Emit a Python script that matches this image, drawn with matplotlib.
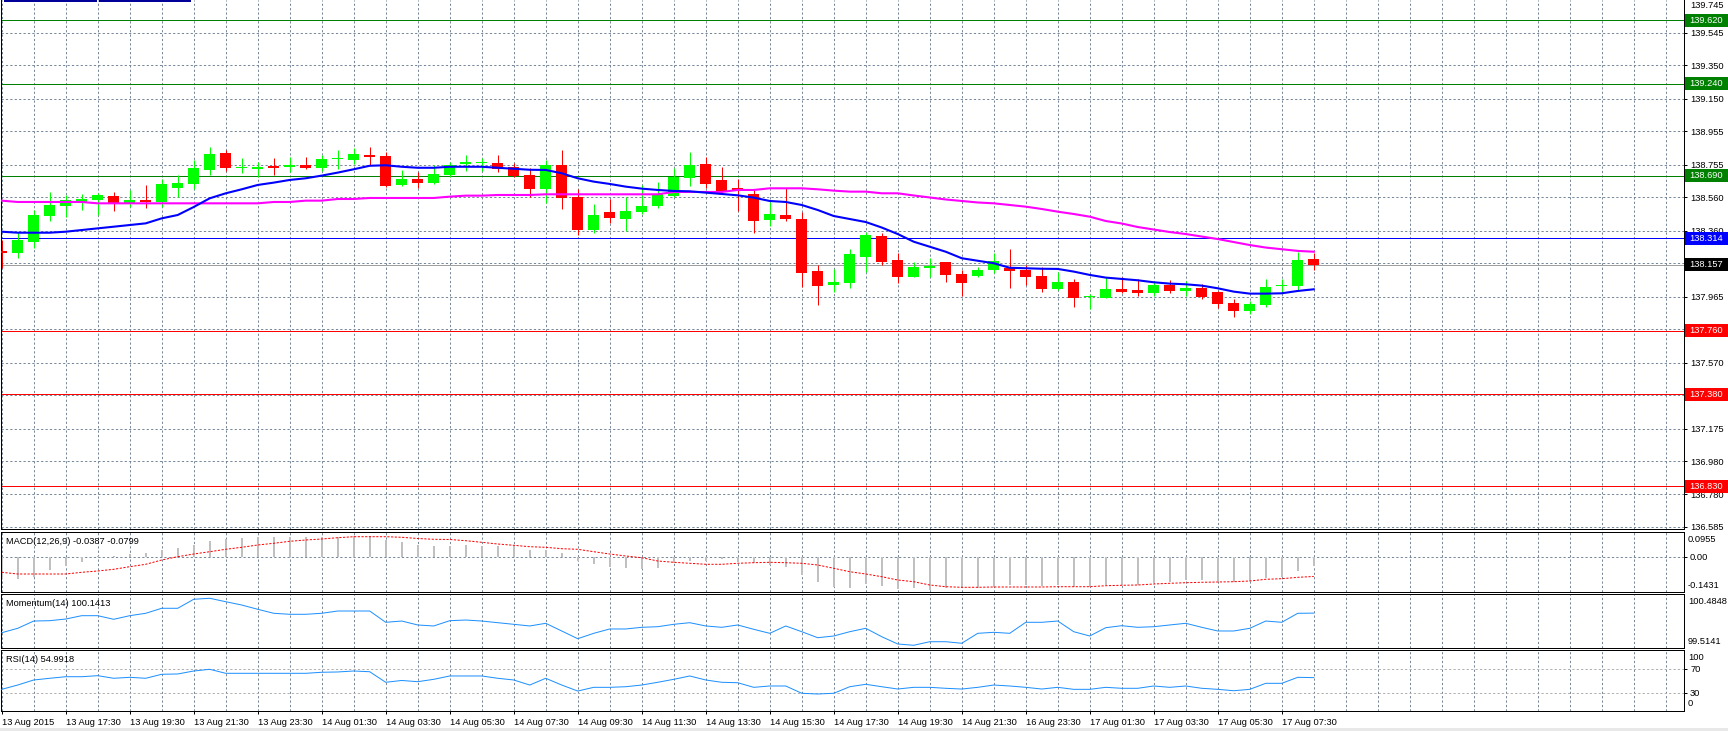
import matplotlib.pyplot as plt
import matplotlib.transforms as mtransforms
from matplotlib.patches import Rectangle
import numpy as np

plt.rcParams['font.family'] = ['Liberation Sans', 'DejaVu Sans']
plt.rcParams['font.size'] = 6.7

# M30 candles, 13 Aug 2015 15:30 .. 17 Aug 2015 08:30
opens = [138.233, 138.228, 138.294, 138.450, 138.510, 138.532, 138.544, 138.568, 138.522, 138.544,
         138.534, 138.618, 138.642, 138.724, 138.826, 138.733, 138.732, 138.748, 138.740, 138.756,
         138.738, 138.787, 138.785, 138.814, 138.808, 138.634, 138.670, 138.648, 138.694, 138.760,
         138.763, 138.766, 138.742, 138.694, 138.612, 138.756, 138.562, 138.366, 138.472, 138.432,
         138.474, 138.510, 138.570, 138.678, 138.760, 138.664, 138.616, 138.580, 138.426, 138.454,
         138.430, 138.119, 138.037, 138.047, 138.204, 138.328, 138.185, 138.085, 138.139, 138.173,
         138.101, 138.091, 138.127, 138.139, 138.127, 138.089, 138.013, 138.053, 137.961, 137.959,
         138.011, 138.005, 137.989, 138.035, 138.001, 138.019, 137.993, 137.927, 137.881, 137.917,
         138.027, 138.031, 138.191]
highs = [138.304, 138.351, 138.484, 138.592, 138.574, 138.580, 138.588, 138.592, 138.604, 138.634,
         138.670, 138.694, 138.784, 138.864, 138.844, 138.794, 138.770, 138.796, 138.804, 138.800,
         138.814, 138.844, 138.857, 138.864, 138.833, 138.724, 138.714, 138.754, 138.772, 138.814,
         138.794, 138.814, 138.764, 138.734, 138.784, 138.844, 138.610, 138.520, 138.548, 138.560,
         138.634, 138.650, 138.734, 138.830, 138.804, 138.740, 138.668, 138.604, 138.534, 138.614,
         138.474, 138.155, 138.129, 138.250, 138.354, 138.344, 138.225, 138.175, 138.195, 138.173,
         138.125, 138.145, 138.225, 138.250, 138.155, 138.141, 138.115, 138.069, 137.979, 138.081,
         138.085, 138.071, 138.059, 138.065, 138.059, 138.041, 138.001, 137.951, 137.941, 138.071,
         138.071, 138.233, 138.225]
lows = [138.137, 138.198, 138.255, 138.420, 138.440, 138.484, 138.454, 138.480, 138.504, 138.498,
        138.500, 138.562, 138.612, 138.692, 138.720, 138.708, 138.684, 138.694, 138.710, 138.728,
        138.718, 138.730, 138.760, 138.754, 138.624, 138.630, 138.614, 138.640, 138.682, 138.720,
        138.720, 138.714, 138.684, 138.564, 138.528, 138.490, 138.334, 138.348, 138.404, 138.360,
        138.458, 138.498, 138.564, 138.630, 138.614, 138.584, 138.478, 138.348, 138.390, 138.420,
        138.025, 137.917, 137.995, 138.019, 138.115, 138.155, 138.045, 138.081, 138.085, 138.055,
        137.969, 138.081, 138.109, 138.019, 138.035, 137.995, 138.005, 137.905, 137.889, 137.955,
        137.985, 137.971, 137.971, 137.985, 137.971, 137.953, 137.895, 137.841, 137.861, 137.905,
        137.984, 138.001, 138.125]
closes = [138.227, 138.304, 138.454, 138.514, 138.544, 138.550, 138.574, 138.528, 138.544, 138.532,
          138.640, 138.646, 138.736, 138.820, 138.738, 138.736, 138.742, 138.738, 138.756, 138.738,
          138.790, 138.789, 138.820, 138.804, 138.630, 138.670, 138.648, 138.702, 138.756, 138.763,
          138.764, 138.732, 138.690, 138.612, 138.754, 138.558, 138.366, 138.454, 138.438, 138.478,
          138.508, 138.580, 138.682, 138.756, 138.642, 138.598, 138.598, 138.420, 138.460, 138.432,
          138.109, 138.031, 138.053, 138.221, 138.334, 138.174, 138.085, 138.143, 138.149, 138.097,
          138.049, 138.125, 138.179, 138.121, 138.085, 138.013, 138.053, 137.959, 137.965, 138.011,
          137.995, 137.989, 138.035, 138.001, 138.019, 137.965, 137.923, 137.881, 137.921, 138.023,
          138.031, 138.185, 138.157]

ma_fast = [138.354, 138.348, 138.348, 138.348, 138.354, 138.364, 138.374, 138.384, 138.394, 138.404,
           138.434, 138.454, 138.502, 138.554, 138.584, 138.608, 138.634, 138.648, 138.664, 138.674,
           138.690, 138.708, 138.728, 138.749, 138.752, 138.743, 138.737, 138.737, 138.743, 138.743,
           138.743, 138.737, 138.731, 138.725, 138.724, 138.704, 138.674, 138.654, 138.640, 138.624,
           138.612, 138.604, 138.598, 138.596, 138.588, 138.580, 138.572, 138.558, 138.538, 138.532,
           138.514, 138.484, 138.448, 138.430, 138.412, 138.379, 138.340, 138.294, 138.264, 138.234,
           138.195, 138.180, 138.165, 138.138, 138.135, 138.132, 138.131, 138.115, 138.095, 138.079,
           138.071, 138.063, 138.051, 138.043, 138.039, 138.031, 138.015, 137.995, 137.983, 137.983,
           137.985, 137.999, 138.009]
ma_slow = [138.540, 138.532, 138.532, 138.532, 138.532, 138.532, 138.524, 138.524, 138.524, 138.524,
           138.524, 138.524, 138.524, 138.524, 138.524, 138.524, 138.524, 138.532, 138.532, 138.540,
           138.540, 138.550, 138.550, 138.556, 138.556, 138.556, 138.556, 138.556, 138.564, 138.570,
           138.570, 138.574, 138.574, 138.574, 138.578, 138.578, 138.578, 138.578, 138.578, 138.578,
           138.578, 138.578, 138.592, 138.592, 138.592, 138.592, 138.604, 138.604, 138.614, 138.614,
           138.614, 138.608, 138.600, 138.594, 138.594, 138.584, 138.584, 138.571, 138.559, 138.547,
           138.538, 138.529, 138.524, 138.514, 138.504, 138.490, 138.474, 138.460, 138.444, 138.418,
           138.403, 138.382, 138.367, 138.352, 138.340, 138.325, 138.310, 138.292, 138.274, 138.259,
           138.249, 138.239, 138.234]

macd_main = [-0.0914, -0.0902, -0.0832, -0.0533, -0.0369, -0.0193, 0.0041, 0.0041, 0.0111, 0.0176,
             0.0287, 0.0381, 0.0504, 0.0656, 0.0738, 0.0767, 0.0808, 0.0832, 0.0808, 0.0808,
             0.0808, 0.0808, 0.0861, 0.0861, 0.0697, 0.0627, 0.0492, 0.0451, 0.0451, 0.0492,
             0.0451, 0.0451, 0.0451, 0.0287, 0.0287, 0.0176, -0.0152, -0.0287, -0.0398, -0.0439,
             -0.0492, -0.0439, -0.0258, -0.0152, -0.0152, -0.0094, -0.0193, -0.0258, -0.0328, -0.0398,
             -0.0738, -0.1013, -0.1218, -0.1259, -0.1119, -0.1177, -0.1312, -0.1283, -0.1353, -0.1283,
             -0.1283, -0.1283, -0.1218, -0.1148, -0.1148, -0.1189, -0.1148, -0.1218, -0.1218, -0.1148,
             -0.1148, -0.1148, -0.1078, -0.1037, -0.0943, -0.0943, -0.0972, -0.1013, -0.0984, -0.0849,
             -0.0808, -0.0574, -0.0387]
macd_signal = [-0.0627, -0.0697, -0.0697, -0.0697, -0.0697, -0.0627, -0.0574, -0.0504, -0.0398, -0.0299,
               -0.0123, 0.0012, 0.0123, 0.0217, 0.0316, 0.0398, 0.0492, 0.0562, 0.0644, 0.0697,
               0.0738, 0.0791, 0.0832, 0.0832, 0.0832, 0.0808, 0.0759, 0.0726, 0.0718, 0.0668,
               0.0603, 0.0533, 0.0480, 0.0422, 0.0398, 0.0340, 0.0316, 0.0217, 0.0123, 0.0041,
               -0.0029, -0.0164, -0.0217, -0.0258, -0.0299, -0.0299, -0.0258, -0.0234, -0.0217, -0.0234,
               -0.0258, -0.0328, -0.0463, -0.0603, -0.0697, -0.0808, -0.0943, -0.1013, -0.1148, -0.1218,
               -0.1242, -0.1242, -0.1230, -0.1230, -0.1230, -0.1230, -0.1218, -0.1218, -0.1218, -0.1177,
               -0.1160, -0.1148, -0.1107, -0.1078, -0.1054, -0.1037, -0.1025, -0.1013, -0.0984, -0.0914,
               -0.0890, -0.0833, -0.0799]
momentum = [99.789, 99.868, 99.999, 100.005, 100.035, 100.095, 100.095, 100.030, 100.095, 100.138,
            100.228, 100.228, 100.390, 100.408, 100.346, 100.287, 100.210, 100.138, 100.120, 100.120,
            100.138, 100.179, 100.179, 100.179, 99.976, 99.999, 99.928, 99.910, 100.005, 100.017,
            99.999, 99.969, 99.940, 99.910, 99.958, 99.820, 99.681, 99.778, 99.856, 99.856,
            99.886, 99.897, 99.940, 99.969, 99.910, 99.886, 99.928, 99.850, 99.778, 99.910,
            99.807, 99.699, 99.730, 99.807, 99.868, 99.717, 99.586, 99.563, 99.627, 99.627,
            99.599, 99.778, 99.796, 99.778, 99.976, 99.976, 99.999, 99.807, 99.730, 99.879,
            99.915, 99.886, 99.897, 99.928, 99.958, 99.886, 99.820, 99.820, 99.868, 99.999,
            99.976, 100.138, 100.141]
rsi = [35.7, 42.8, 51.1, 53.9, 56.5, 56.5, 58.2, 53.9, 55.5, 53.9,
       60.5, 61.0, 65.9, 68.7, 62.1, 62.1, 62.1, 62.1, 62.1, 62.1,
       63.8, 64.3, 65.9, 64.7, 47.3, 50.3, 48.3, 52.2, 57.7, 57.7,
       57.7, 53.9, 51.1, 42.8, 53.9, 42.8, 32.9, 39.0, 39.0, 40.0,
       42.8, 47.3, 52.2, 57.7, 51.1, 47.3, 46.6, 39.0, 41.2, 41.2,
       29.2, 28.0, 29.2, 40.0, 44.0, 40.0, 36.2, 39.0, 39.0, 37.4,
       36.2, 39.0, 42.8, 41.2, 39.0, 36.2, 39.0, 35.7, 35.7, 39.0,
       37.4, 37.4, 41.2, 39.0, 41.2, 37.4, 35.7, 33.4, 35.7, 45.6,
       45.6, 55.5, 54.99]

time_labels = ['13 Aug 2015', '13 Aug 17:30', '13 Aug 19:30', '13 Aug 21:30', '13 Aug 23:30',
               '14 Aug 01:30', '14 Aug 03:30', '14 Aug 05:30', '14 Aug 07:30', '14 Aug 09:30',
               '14 Aug 11:30', '14 Aug 13:30', '14 Aug 15:30', '14 Aug 17:30', '14 Aug 19:30',
               '14 Aug 21:30', '16 Aug 23:30', '17 Aug 01:30', '17 Aug 03:30', '17 Aug 05:30',
               '17 Aug 07:30']

price_ticks = [139.545, 139.350, 139.150, 138.955, 138.755, 138.560, 138.360,
               137.965, 137.570, 137.175, 136.980, 136.780, 136.585]
hidden_grid = [138.165, 137.770, 137.375]
green_levels = [139.620, 139.240, 138.690]
red_levels = [137.760, 137.380, 136.830]
blue_level = 138.314
bid = 138.157

W, H = 1728, 731
GRID = '#778899'
DASH = (0, (2.2, 2.2))
LW = 0.72

opens = np.array(opens); closes = np.array(closes)
highs = np.array(highs); lows = np.array(lows)
idx = np.arange(len(opens))

fig = plt.figure(figsize=(W / 100, H / 100), dpi=100)


def panel(top, bottom):
    ax = fig.add_axes([1 / W, 1 - bottom / H, 1683 / W, (bottom - top) / H])
    ax.set_xlim(-0.044, 105.14)
    for s in ax.spines.values():
        s.set_linewidth(LW)
        s.set_color('black')
    ax.set_xticks([])
    ax.tick_params(axis='y', left=False, labelleft=False, right=True, labelright=True,
                   direction='out', length=2.2, width=LW, pad=2.2, labelsize=6.7)
    for k in range(0, 106, 2):
        ax.axvline(k, color=GRID, lw=LW, ls=DASH, zorder=0)
    return ax


# ---- main price panel ----
ax = panel(0, 529)
ax.spines['top'].set_visible(False)
ax.set_ylim(136.573, 139.742)
ax.yaxis.tick_right()
ax.set_yticks(price_ticks)
ax.set_yticklabels([f'{v:.3f}' for v in price_ticks])
for v in price_ticks + hidden_grid:
    ax.axhline(v, color=GRID, lw=LW, ls=DASH, zorder=0)

for v in green_levels:
    ax.axhline(v, color='#008000', lw=LW, zorder=1)
for v in red_levels:
    ax.axhline(v, color='#FF0000', lw=LW, zorder=1)
ax.axhline(blue_level, color='#0000FF', lw=LW, zorder=1)
ax.axhline(bid, color='#A0A0A0', lw=LW, zorder=1)

up = closes >= opens
colors = np.where(up, '#00FF00', '#FF0000')
ax.vlines(idx, lows, highs, colors=colors, lw=LW, zorder=3)
body_lo = np.minimum(opens, closes)
body_h = np.maximum(np.abs(closes - opens), 0.009)
ax.bar(idx, body_h, bottom=body_lo, width=0.69, color=colors, linewidth=0, zorder=4)

ax.plot(idx, ma_slow, color='#FF00FF', lw=1.5, zorder=5, solid_joinstyle='miter')
ax.plot(idx, ma_fast, color='#0000FF', lw=1.5, zorder=6, solid_joinstyle='miter')

# coloured price tags on the right scale
ymin, ymax = ax.get_ylim()
per_px = (ymax - ymin) / 529
trans = mtransforms.blended_transform_factory(fig.transFigure, ax.transData)
tags = [(v, '#008000') for v in green_levels] + [(v, '#FF0000') for v in red_levels] + \
       [(blue_level, '#0000FF'), (bid, '#000000')]
for v, face in tags:
    ax.add_patch(Rectangle((1685 / W, v - 6.5 * per_px), 43 / W, 13 * per_px, transform=trans,
                           facecolor=face, edgecolor='none', clip_on=False, zorder=10))
    ax.text(1689 / W, v, f'{v:.3f}', transform=trans, color='white', va='center', ha='left',
            fontsize=6.7, clip_on=False, zorder=11)
fig.text(1690 / W, 1 - 0.5 / H, '139.745', va='top', ha='left', fontsize=6.7)

# ---- MACD ----
ax_m = panel(532, 592)
ax_m.set_ylim(-0.1435, 0.1025)
ax_m.axhline(0, color=GRID, lw=LW, ls=DASH, zorder=0)
ax_m.bar(idx, macd_main, width=0.125, color='#C0C0C0', linewidth=0, zorder=2)
ax_m.plot(idx, macd_signal, color='#FF0000', lw=LW, ls=(0, (2.2, 1.5)), zorder=3)
ax_m.set_yticks([0])
ax_m.set_yticklabels(['0.00'])
fig.text(1688 / W, 1 - 539 / H, '0.0955', va='center', ha='left')
fig.text(1688 / W, 1 - 586 / H, '-0.1431', va='center', ha='left')
fig.text(6 / W, 1 - 542 / H, 'MACD(12,26,9) -0.0387 -0.0799', va='center', ha='left')

# ---- Momentum ----
ax_p = panel(594, 648)
ax_p.set_ylim(99.5141, 100.4848)
ax_p.plot(idx, momentum, color='#1E90FF', lw=LW, zorder=3)
ax_p.set_yticks([])
fig.text(1688 / W, 1 - 601 / H, '100.4848', va='center', ha='left')
fig.text(1688 / W, 1 - 641 / H, '99.5141', va='center', ha='left')
fig.text(6 / W, 1 - 603 / H, 'Momentum(14) 100.1413', va='center', ha='left')

# ---- RSI ----
ax_r = panel(650, 711)
ax_r.set_ylim(0, 100.5)
for lv in (70, 30):
    ax_r.axhline(lv, color='#B0B0B0', lw=LW, ls=DASH, zorder=0)
ax_r.plot(idx, rsi, color='#1E90FF', lw=LW, zorder=3)
ax_r.set_yticks([70, 30])
ax_r.set_yticklabels(['70', '30'])
fig.text(1688 / W, 1 - 657 / H, '100', va='center', ha='left')
fig.text(1688 / W, 1 - 704 / H, '0', va='center', ha='left')
fig.text(6 / W, 1 - 659 / H, 'RSI(14) 54.9918', va='center', ha='left')

ax_r.set_xticks(range(0, 4 * len(time_labels), 4))
ax_r.set_xticklabels(time_labels, ha='left')
ax_r.tick_params(axis='x', bottom=True, labelbottom=True, direction='out', length=2.2,
                 width=LW, pad=2.5, labelsize=6.7)

# window decorations
fig.patches.append(Rectangle((4 / W, 1 - 2 / H), 93 / W, 2 / H, transform=fig.transFigure,
                             facecolor='#000099', edgecolor='none'))
fig.patches.append(Rectangle((99 / W, 1 - 2 / H), 92 / W, 2 / H, transform=fig.transFigure,
                             facecolor='#000099', edgecolor='none'))
fig.patches.append(Rectangle((0, 0), 1, 3 / H, transform=fig.transFigure,
                             facecolor='#E8E8E8', edgecolor='none'))

fig.savefig('out.png', dpi=100)
